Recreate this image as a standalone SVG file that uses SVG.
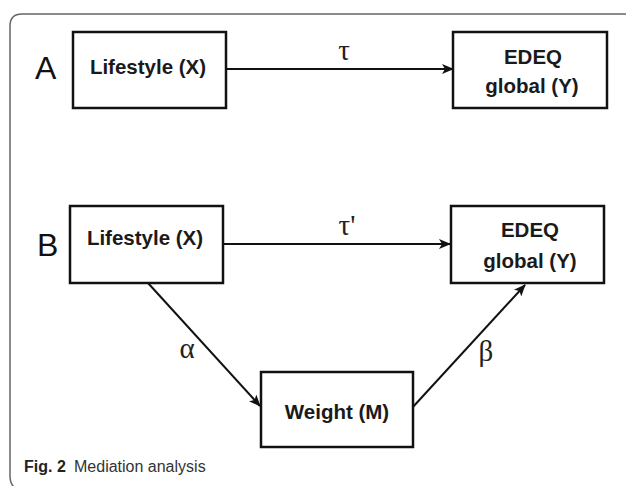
<svg xmlns="http://www.w3.org/2000/svg" width="627" height="486" viewBox="0 0 627 486">
<defs>
<marker id="arr" markerWidth="12" markerHeight="10" refX="11" refY="5" orient="auto" markerUnits="userSpaceOnUse">
<path d="M0,0 L12,5 L0,10 L3,5 Z" fill="#111"/>
</marker>
<style>
.box{fill:#fff;stroke:#111;stroke-width:2.5}
.lbl{font-family:"Liberation Sans",Arial,sans-serif;font-weight:bold;font-size:20.5px;fill:#1a1a1a;text-anchor:middle}
.big{font-family:"Liberation Sans",Arial,sans-serif;font-size:32px;fill:#111}
.gr{font-family:"Liberation Serif","DejaVu Serif",serif;font-size:29px;fill:#222;text-anchor:middle}
.con{stroke:#111;stroke-width:2;fill:none;marker-end:url(#arr)}
.cap{font-family:"Liberation Sans",Arial,sans-serif;font-size:16px;fill:#333}
</style>
</defs>
<rect width="627" height="486" fill="#fff"/>
<path d="M626 14 H22 Q10 14 10 26 V476 Q10 484 15 488" fill="none" stroke="#666" stroke-width="1.5"/>
<text class="big" x="35" y="79">A</text>
<text class="big" x="37" y="256">B</text>
<g id="connectors">
<line class="con" x1="226" y1="69" x2="453" y2="69"/>
<line class="con" x1="223" y1="244" x2="450" y2="244"/>
<line class="con" x1="148" y1="283" x2="260" y2="406"/>
<line class="con" x1="412" y1="408" x2="525" y2="285"/>
<text class="gr" x="344" y="60">τ</text>
<text class="gr" x="347" y="235">τ'</text>
<text class="gr" x="187" y="358">α</text>
<text class="gr" x="486" y="361">β</text>
</g>
<g id="lifestyleA">
<rect class="box" x="73" y="32" width="153" height="76"/>
<text class="lbl" x="148" y="74">Lifestyle (X)</text>
</g>
<g id="edeqA">
<rect class="box" x="453" y="32" width="154" height="76"/>
<text class="lbl" x="533" y="64">EDEQ</text>
<text class="lbl" x="532" y="93">global (Y)</text>
</g>
<g id="lifestyleB">
<rect class="box" x="70" y="206" width="153" height="77"/>
<text class="lbl" x="145" y="245">Lifestyle (X)</text>
</g>
<g id="edeqB">
<rect class="box" x="451" y="206" width="153" height="77"/>
<text class="lbl" x="530" y="237">EDEQ</text>
<text class="lbl" x="530" y="268">global (Y)</text>
</g>
<g id="weightM">
<rect class="box" x="261" y="372" width="152" height="75"/>
<text class="lbl" x="337" y="419">Weight (M)</text>
</g>
<text class="cap" x="24" y="472"><tspan font-weight="bold" fill="#222">Fig. 2</tspan><tspan x="74">Mediation analysis</tspan></text>
</svg>
